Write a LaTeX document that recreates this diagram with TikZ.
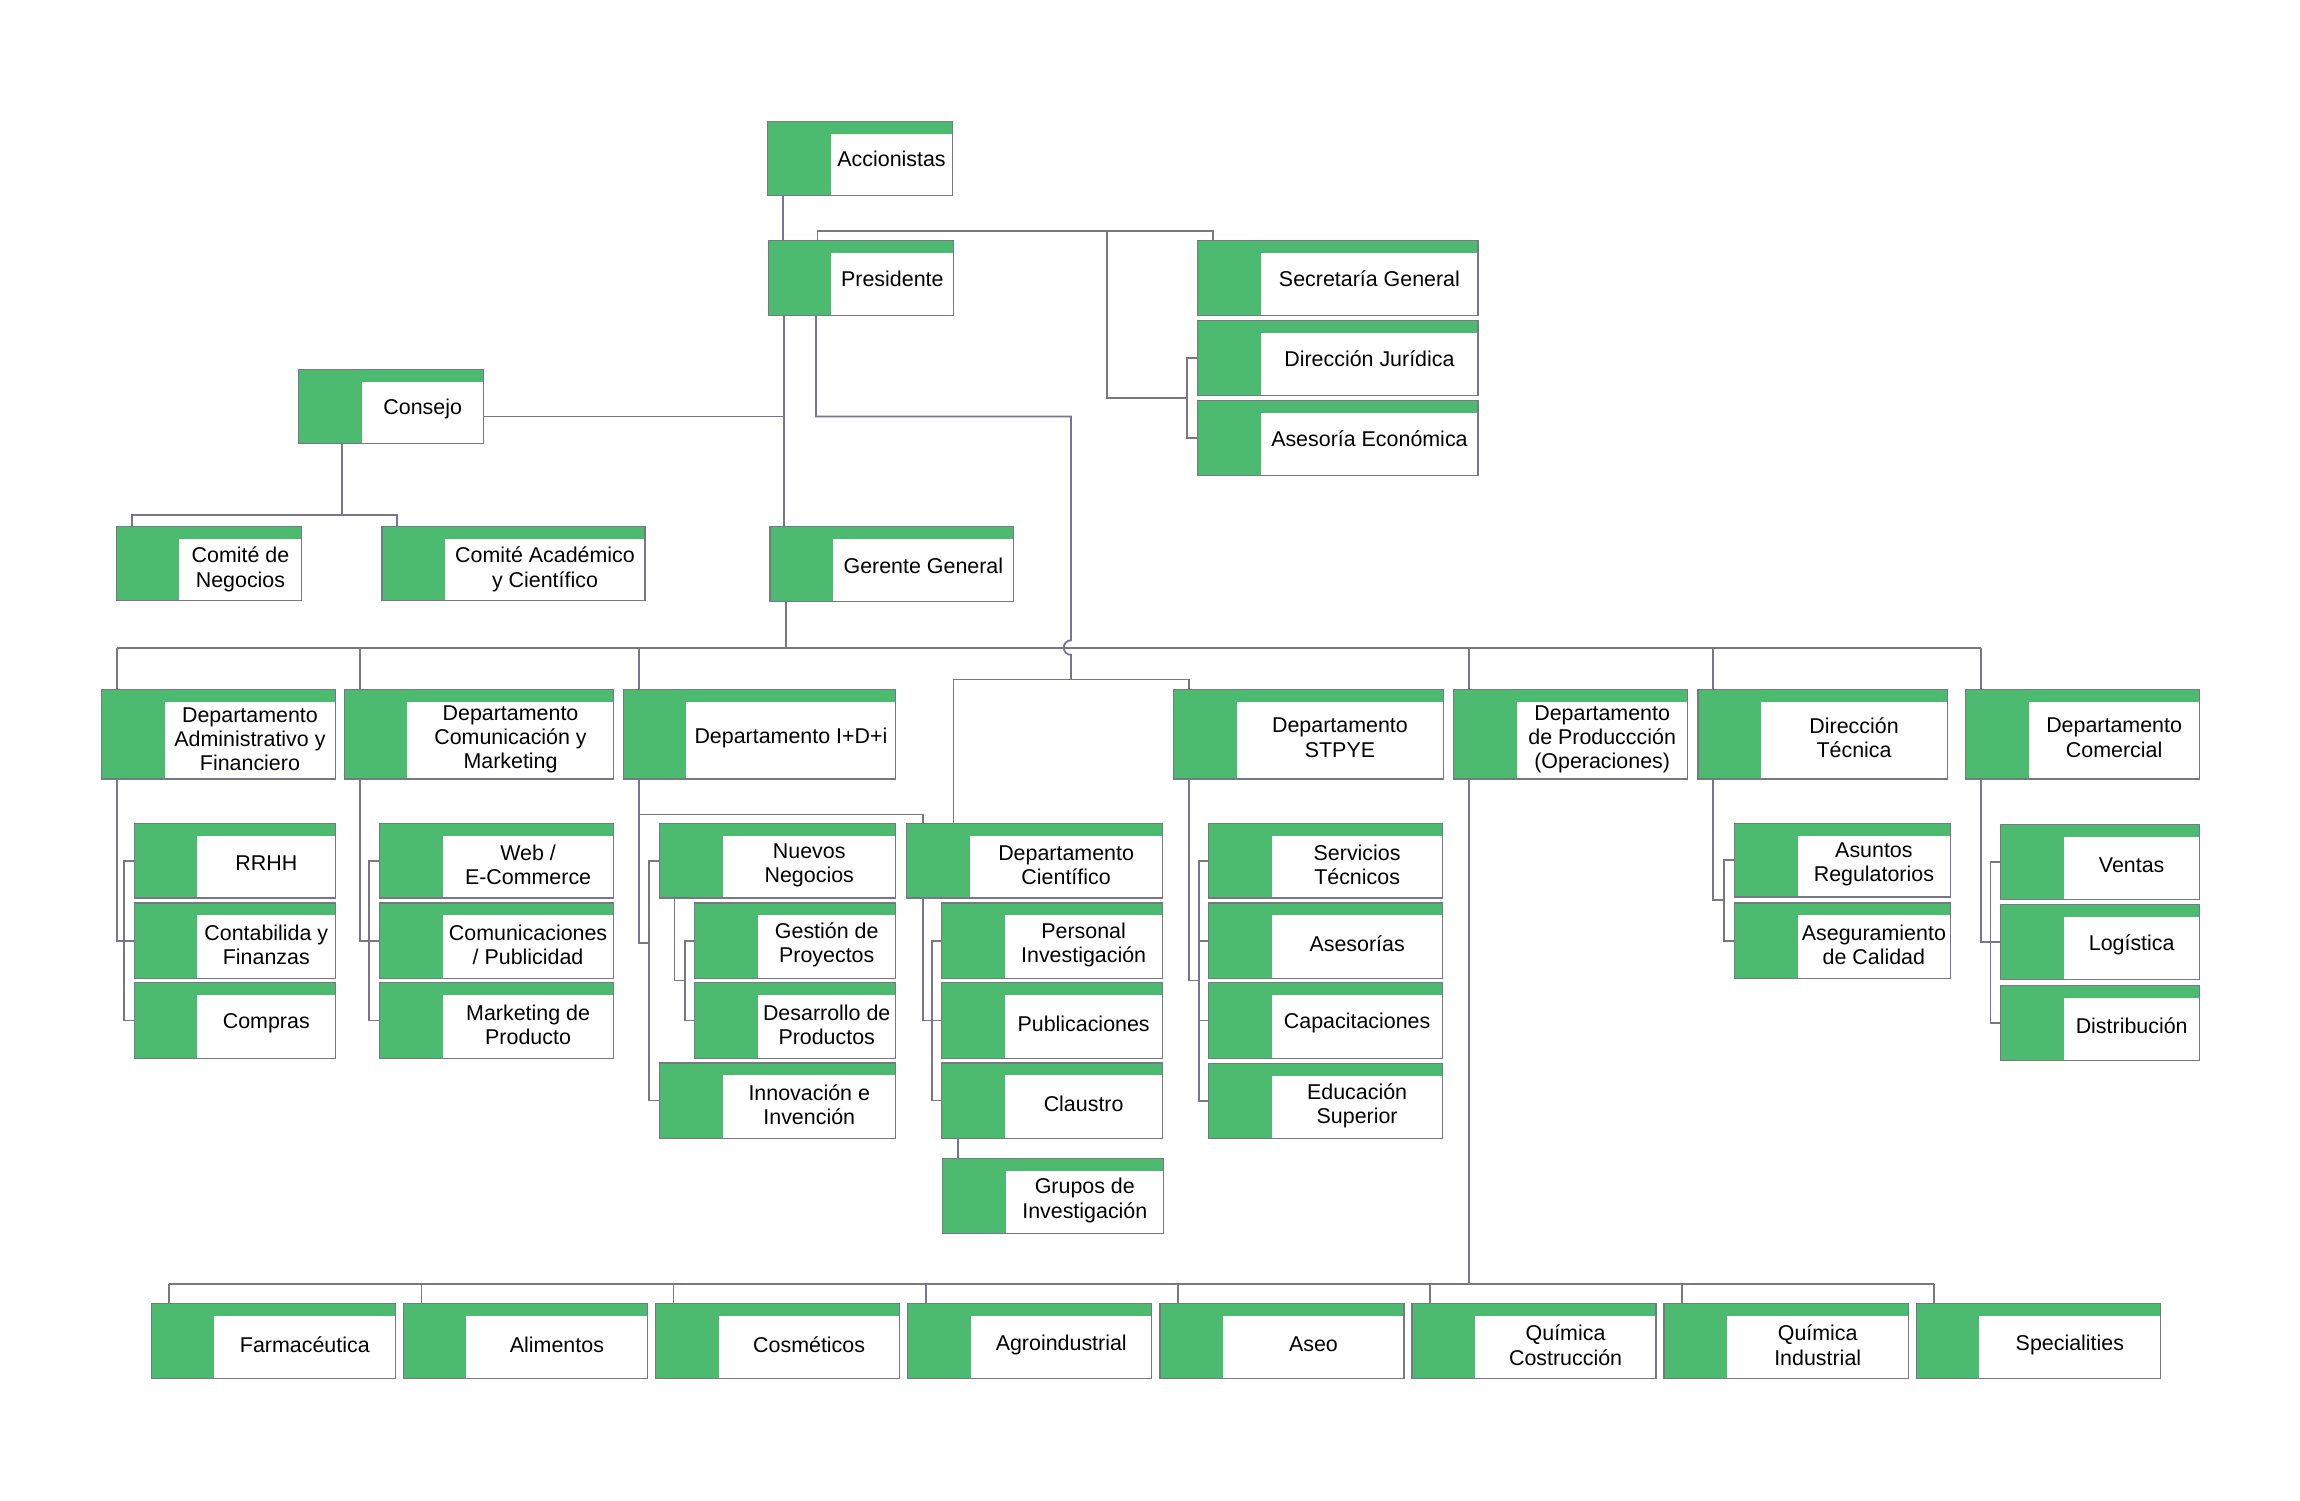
\documentclass[tikz,border=0pt]{standalone}
\usepackage{fontspec}
\setmainfont{Liberation Sans}
\usetikzlibrary{calc}
\definecolor{ogreen}{RGB}{77,187,111}
\definecolor{ogray}{RGB}{120,118,135}
\tikzset{
  obox/.style={draw=ogray, line width=0.9pt, fill=white, inner sep=0pt, outer sep=0pt,
    path picture={
      \fill[ogreen] (path picture bounding box.north west) rectangle ($(path picture bounding box.south west)+(43,0)$);
      \fill[ogreen] (path picture bounding box.north west) rectangle ($(path picture bounding box.north east)+(0,8.5)$);
    }},
  otext/.style={inner sep=0pt, align=center, font=\fontsize{14.6}{16.6}\selectfont, text=black},
  conn/.style={draw=ogray, line width=1.2pt}
}
\newcommand\obox[7][1.5]{%
  \node[obox, minimum width={(#5)-(#3)}, minimum height={(#6)-(#4)}, anchor=north west] (#2) at (#3,#4) {};
  \node[otext] (#2t) at ($(#2.center)+(21.5,#1)$) {#7};
}
\begin{document}
\begin{tikzpicture}[x=1pt,y=-1pt]
\fill[white] (0,0) rectangle (1568,1023);
\useasboundingbox (0,0) rectangle (1568,1023);

% top level
\obox[0.5]{acc}{523.3}{82.9}{649.3}{133.3}{Accionistas}
\obox[0.5]{pres}{523.8}{164.1}{649.9}{215.1}{Presidente}
\obox[0.5]{sec}{816.5}{164.1}{1007.7}{215.1}{Secretaría General}
\obox[0.5]{jur}{816.5}{218.6}{1007.7}{269.5}{Dirección Jurídica}
\obox[0.5]{aec}{816.5}{273.2}{1007.7}{324}{Asesoría Económica}
\obox[1.5]{cons}{203.5}{251.8}{329.8}{302.2}{Consejo}
\obox[4]{neg}{79.3}{358.8}{205.6}{409.3}{Comité de\\Negocios}
\obox[4]{aca}{260.4}{359}{439.7}{409.5}{Comité Académico\\y Científico}
\obox[1]{ger}{525}{359}{691}{410}{Gerente General}

% departments
\obox[3.5]{adm}{69.3}{470}{228.5}{531}{Departamento\\Administrativo y\\Financiero}
\obox[3.5]{com}{234.8}{470}{418.3}{531}{Departamento\\Comunicación y\\Marketing}
\obox[2.5]{idi}{425}{470}{610.4}{531}{Departamento I+D+i}
\obox[2.5]{stp}{800}{470}{984}{531}{Departamento\\STPYE}
\obox[3.5]{prod}{991}{470}{1150.5}{531}{Departamento\\de Produccción\\(Operaciones)}
\obox[2.5]{tec}{1157.5}{470}{1327.5}{531}{Dirección\\Técnica}
\obox[2.5]{comer}{1340}{470}{1499.5}{531}{Departamento\\Comercial}

% admin
\obox[2]{rrhh}{91.6}{561.2}{228.5}{612.3}{RRHH}
\obox[3]{cont}{91.6}{615.6}{228.5}{666.9}{Contabilida y\\Finanzas}
\obox[2]{comp}{91.6}{670}{228.5}{721.4}{Compras}
% comunicacion
\obox[3]{web}{258.7}{561.2}{418.3}{612.3}{Web /\\E-Commerce}
\obox[3]{cpub}{258.7}{615.6}{418.3}{666.9}{Comunicaciones\\/ Publicidad}
\obox[3]{mkt}{258.7}{670}{418.3}{721.4}{Marketing de\\Producto}
% I+D+i
\obox[3]{nue}{449.8}{561.2}{610.6}{612.3}{Nuevos\\Negocios}
\obox[3]{ges}{473.6}{615.6}{610.6}{666.9}{Gestión de\\Proyectos}
\obox[3]{des}{473.6}{670}{610.6}{721.4}{Desarrollo de\\Productos}
\obox[3]{inn}{449.8}{724.6}{610.6}{776}{Innovación e\\Invención}
% cientifico
\obox[3]{cie}{618}{561.2}{792.6}{612.3}{Departamento\\Científico}
\obox[3]{per}{641.9}{615.6}{792.6}{666.9}{Personal\\Investigación}
\obox[2]{pub}{641.9}{670}{792.6}{721.4}{Publicaciones}
\obox[2]{cla}{641.9}{724.6}{792.6}{776}{Claustro}
\obox[3]{gru}{642.7}{789.9}{793.4}{841}{Grupos de\\Investigación}
% STPYE
\obox[3]{ser}{823.9}{561.2}{983.5}{612.3}{Servicios\\Técnicos}
\obox[2]{ase2}{823.9}{615.6}{983.5}{666.9}{Asesorías}
\obox[2]{cap}{823.9}{670}{983.5}{721.4}{Capacitaciones}
\obox[3]{edu}{823.9}{725.2}{983.5}{776.3}{Educación\\Superior}
% tecnica
\obox[3]{asu}{1182.5}{561.2}{1329.5}{611.5}{Asuntos\\Regulatorios}
\obox[3]{aseg}{1182.5}{615.6}{1329.5}{666.9}{Aseguramiento\\de Calidad}
% comercial
\obox[2]{ven}{1364}{562}{1499.5}{613.1}{Ventas}
\obox[2]{logi}{1364}{616.5}{1499.5}{667.6}{Logística}
\obox[2]{dis}{1364}{671.7}{1499.5}{722.9}{Distribución}

% bottom
\obox[2.5]{far}{103.1}{888.5}{269.5}{939.7}{Farmacéutica}
\obox[2.5]{ali}{275}{888.5}{441.4}{939.7}{Alimentos}
\obox[2.5]{cosm}{446.9}{888.5}{613.3}{939.7}{Cosméticos}
\obox[2.5]{agr}{618.8}{888.5}{785.2}{939.7}{Agroindustrial}
\obox[2.5]{aseo}{790.7}{888.5}{957.1}{939.7}{Aseo}
\obox[3]{qc}{962.6}{888.5}{1129}{939.7}{Química\\Costrucción}
\obox[3]{qi}{1134.5}{888.5}{1300.9}{939.7}{Química\\Industrial}
\obox[2.5]{spe}{1306.4}{888.5}{1472.8}{939.7}{Specialities}

% ---------- connectors ----------
% Accionistas - Presidente
\draw[conn] ($(acc.south west)+(10.4,0)$) -- ($(pres.north west)+(9.9,0)$);
% Presidente - Secretaria / Juridica / Asesoria
\coordinate (ptop) at ($(pres.north west)+(33.5,-6.8)$);
\draw[conn] ($(pres.north west)+(33.5,0)$) -- (ptop) -| ($(sec.north west)+(10.5,0)$);
\coordinate (tsplit) at (754.6,157.3);
\coordinate (jbr) at ($(jur.west)!0.5!(aec.west)+(-7.3,0)$);
\draw[conn] (tsplit) |- (jbr);
\draw[conn] (jur.west) -| (jbr) |- (aec.west);
% Presidente - Gerente
\coordinate (p1) at ($(pres.south west)+(10.6,0)$);
\draw[conn] (p1) -- (p1 |- ger.north);
% Consejo
\coordinate (cj) at ($(cons.east)+(0,7)$);
\draw[conn] (cj) -- (cj -| p1);
\coordinate (cb) at ($(cons.south west)+(29.8,49.1)$);
\draw[conn] ($(cons.south west)+(29.8,0)$) -- (cb);
\draw[conn] ($(neg.north west)+(10.5,0)$) |- (cb) -| ($(aca.north west)+(10.2,0)$);
% main bus
\coordinate (busL) at ($(adm.north west)+(10.5,-28.5)$);
\coordinate (busR) at ($(comer.north west)+(10.5,-28.5)$);
\coordinate (g1) at ($(ger.south west)+(10.7,0)$);
\draw[conn] (busL) -- (busR);
\draw[conn] (g1) -- (g1 |- busL);
\foreach \n in {adm,com,idi,prod,tec,comer}
  \draw[conn] ($(\n.north west)+(10.5,0)$) -- ++(0,-28.5);
% Presidente second line with hop
\coordinate (p2) at ($(pres.south west)+(32.5,0)$);
\coordinate (pe) at (730.2,284);
\coordinate (sj) at (730.2,463.3);
\coordinate (hopc) at (pe |- busL);
\draw[conn] (p2) |- (pe) -- ([yshift=5pt]hopc) arc[start angle=90,end angle=270,radius=5pt] -- (sj);
\draw[conn] ($(cie.north west)+(32.1,0)$) |- (sj) -| ($(stp.north west)+(10.5,0)$);
% Admin
\coordinate (ab) at ($(cont.west)+(-7.1,0)$);
\draw[conn] ($(adm.south west)+(10.5,0)$) |- (ab);
\draw[conn] (rrhh.west) -| (ab) |- (comp.west);
\draw[conn] (ab) -- (cont.west);
% Comunicacion
\coordinate (mb) at ($(cpub.west)+(-7.1,0)$);
\draw[conn] ($(com.south west)+(10.5,0)$) |- (mb);
\draw[conn] (web.west) -| (mb) |- (mkt.west);
\draw[conn] (mb) -- (cpub.west);
% I+D+i
\coordinate (ij) at ($(cie.north west)+(11,-6)$);
\coordinate (ib) at (442.7,642.8);
\draw[conn] ($(idi.south west)+(10.5,0)$) |- (ib);
\draw[conn] ($(idi.south west)+(10.5,0)$) |- (ij) -- (ij |- cie.north);
\draw[conn] (nue.west) -| (ib) |- (inn.west);
\coordinate (nb) at ($(ges.west)!0.5!(des.west)+(-6.6,0)$);
\draw[conn] ($(nue.south west)+(10.1,0)$) |- (nb);
\draw[conn] (ges.west) -| (nb) |- (des.west);
% Cientifico
\coordinate (kb) at ($(pub.west)+(-6.6,0)$);
\draw[conn] ($(cie.south west)+(11,0)$) |- (kb);
\draw[conn] (per.west) -| (kb) |- (cla.west);
\draw[conn] (kb) -- (pub.west);
\coordinate (k1) at ($(cla.south west)+(11,0)$);
\draw[conn] (k1) -- (k1 |- gru.north);
% STPYE
\coordinate (sb) at ($(ase2.west)!0.5!(cap.west)+(-6.7,0)$);
\draw[conn] ($(stp.south west)+(10.5,0)$) |- (sb);
\draw[conn] (ser.west) -| (sb) |- (edu.west);
\draw[conn] (ase2.west) -- (ase2.west -| sb);
\draw[conn] (cap.west) -- (cap.west -| sb);
% Tecnica
\coordinate (tb) at ($(asu.west)!0.5!(aseg.west)+(-7,0)$);
\draw[conn] ($(tec.south west)+(10.5,0)$) |- (tb);
\draw[conn] (asu.west) -| (tb) |- (aseg.west);
% Comercial
\coordinate (vb) at ($(logi.west)+(-7,0)$);
\draw[conn] ($(comer.south west)+(10.5,0)$) |- (vb);
\draw[conn] (ven.west) -| (vb) |- (dis.west);
\draw[conn] (vb) -- (logi.west);
% Produccion bottom bus
\coordinate (bbL) at ($(far.north west)+(12.3,-13.3)$);
\coordinate (bbR) at ($(spe.north west)+(12.3,-13.3)$);
\coordinate (pd) at ($(prod.south west)+(10.5,0)$);
\draw[conn] (bbL) -- (bbR);
\draw[conn] (pd) -- (pd |- bbL);
\foreach \n in {far,ali,cosm,agr,aseo,qc,qi,spe}
  \draw[conn] ($(\n.north west)+(12.3,0)$) -- ++(0,-13.3);
\end{tikzpicture}
\end{document}
